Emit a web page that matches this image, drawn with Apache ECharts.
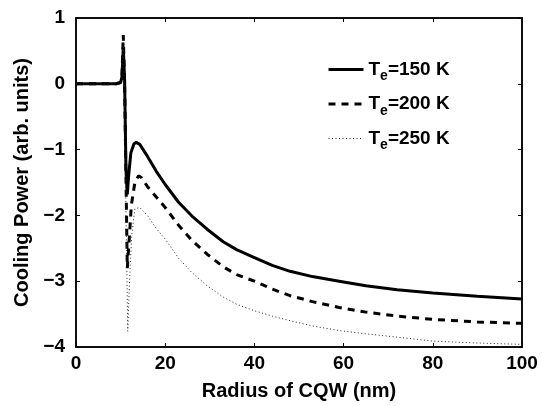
<!DOCTYPE html>
<html>
<head>
<meta charset="utf-8">
<script src="https://cdn.jsdelivr.net/npm/echarts@6/dist/echarts.min.js"></script>
<style>
  html, body { margin: 0; padding: 0; background: #fff; }
  #chart { width: 542px; height: 406px; }
</style>
</head>
<body>
<div id="chart"></div>
<script>
// radius (nm) and cooling power
var te150 = [[0,0],[9,0],[10,0.02],[10.3,0.1],[10.6,0.56],[10.9,0.05],[11.2,-1.3],[11.5,-1.68],[11.8,-1.4],[12.3,-1.05],[13,-0.91],[13.5,-0.89],[14.3,-0.92],[16,-1.1],[18,-1.33],[20,-1.53],[23,-1.8],[26,-2.01],[29.4,-2.21],[33,-2.4],[36,-2.52],[40,-2.64],[44,-2.76],[48,-2.85],[53,-2.93],[59,-3.0],[65,-3.07],[72,-3.13],[80,-3.18],[90,-3.23],[100,-3.27]];
var te200 = [[0,0],[9,0],[10,0.02],[10.3,0.1],[10.6,0.74],[10.9,0.0],[11.5,-2.8],[11.9,-2.4],[12.4,-1.85],[13.2,-1.5],[14,-1.4],[14.6,-1.42],[16,-1.56],[18,-1.72],[20,-1.88],[23,-2.15],[26,-2.38],[29.4,-2.59],[33,-2.78],[36,-2.9],[40,-3.0],[44,-3.12],[48,-3.22],[53,-3.31],[59,-3.4],[65,-3.47],[72,-3.53],[80,-3.58],[90,-3.62],[100,-3.64]];
var te250 = [[0,0],[9,0],[10,0.02],[10.3,0.1],[10.6,0.72],[10.9,-0.5],[11.6,-3.76],[12,-3.0],[12.5,-2.3],[13.2,-1.9],[14.3,-1.88],[16,-2.0],[18,-2.2],[20,-2.36],[23,-2.65],[26,-2.87],[29.4,-3.07],[33,-3.24],[36,-3.35],[40,-3.45],[44,-3.53],[48,-3.6],[53,-3.68],[59,-3.75],[65,-3.8],[72,-3.85],[80,-3.91],[90,-3.94],[100,-3.96]];
var seriesNames = ['T_e=150 K', 'T_e=200 K', 'T_e=250 K'];

var chart = echarts.init(document.getElementById('chart'));
var font = 'Liberation Sans, Arial, sans-serif';
var minus = function (v) { return String(v).replace('-', '\u2212'); };
var styles = [
  { color: '#000', width: 3 },
  { color: '#000', width: 3, type: [7, 6] },
  { color: '#222', width: 1, type: [1, 2.5] }
];

var option = {
  animation: false,
  grid: { left: 76, right: 20, top: 18, bottom: 58, show: true, borderColor: '#000', borderWidth: 1.5 },
  legend: {
    left: 327, top: 60, padding: 0, orient: 'vertical', itemGap: 11, itemWidth: 35, itemHeight: 22,
    itemStyle: { opacity: 0 },
    data: seriesNames.map(function (n, i) { return { name: n, lineStyle: styles[i] }; }),
    formatter: function (n) {
      var p = n.split('_e');
      return '{t|' + p[0] + '}{s|e}{t|' + p[1] + '}';
    },
    textStyle: {
      rich: {
        t: { fontSize: 19, fontWeight: 'bold', fontFamily: font, color: '#000', lineHeight: 22 },
        s: { fontSize: 14, fontWeight: 'bold', fontFamily: font, color: '#000', padding: [14, 0, 0, 0] }
      }
    }
  },
  xAxis: [{
    type: 'value', min: 0, max: 100, interval: 20,
    name: 'Radius of CQW (nm)', nameLocation: 'middle', nameGap: 34,
    nameTextStyle: { fontSize: 20, fontWeight: 'bold', fontFamily: font, color: '#000' },
    axisLine: { onZero: false, lineStyle: { color: '#000', width: 1.5 } },
    axisTick: { inside: true, length: 4, lineStyle: { color: '#000' } },
    axisLabel: { fontSize: 19, fontWeight: 'bold', fontFamily: font, color: '#000', margin: 7 },
    splitLine: { show: false }
  }, {
    type: 'value', min: 0, max: 100, interval: 20, position: 'top',
    axisLine: { onZero: false, lineStyle: { color: '#000', width: 1.5 } },
    axisTick: { inside: true, length: 4, lineStyle: { color: '#000' } },
    axisLabel: { show: false }, splitLine: { show: false }
  }],
  yAxis: [{
    type: 'value', min: -4, max: 1, interval: 1,
    name: 'Cooling Power (arb. units)', nameLocation: 'middle', nameGap: 44,
    nameTextStyle: { fontSize: 20, fontWeight: 'bold', fontFamily: font, color: '#000' },
    axisLine: { onZero: false, lineStyle: { color: '#000', width: 1.5 } },
    axisTick: { inside: true, length: 4, lineStyle: { color: '#000' } },
    axisLabel: { fontSize: 19, fontWeight: 'bold', fontFamily: font, color: '#000', margin: 11, formatter: minus },
    splitLine: { show: false }
  }, {
    type: 'value', min: -4, max: 1, interval: 1, position: 'right',
    axisLine: { show: true, onZero: false, lineStyle: { color: '#000', width: 1.5 } },
    axisTick: { show: true, inside: true, length: 4, lineStyle: { color: '#000' } },
    axisLabel: { show: false }, splitLine: { show: false }
  }],
  series: [te150, te200, te250].map(function (d, i) {
    return {
      name: seriesNames[i], type: 'line', data: d, showSymbol: false, symbol: 'none',
      lineStyle: styles[i], itemStyle: { color: styles[i].color }
    };
  })
};
chart.setOption(option);
</script>
</body>
</html>
